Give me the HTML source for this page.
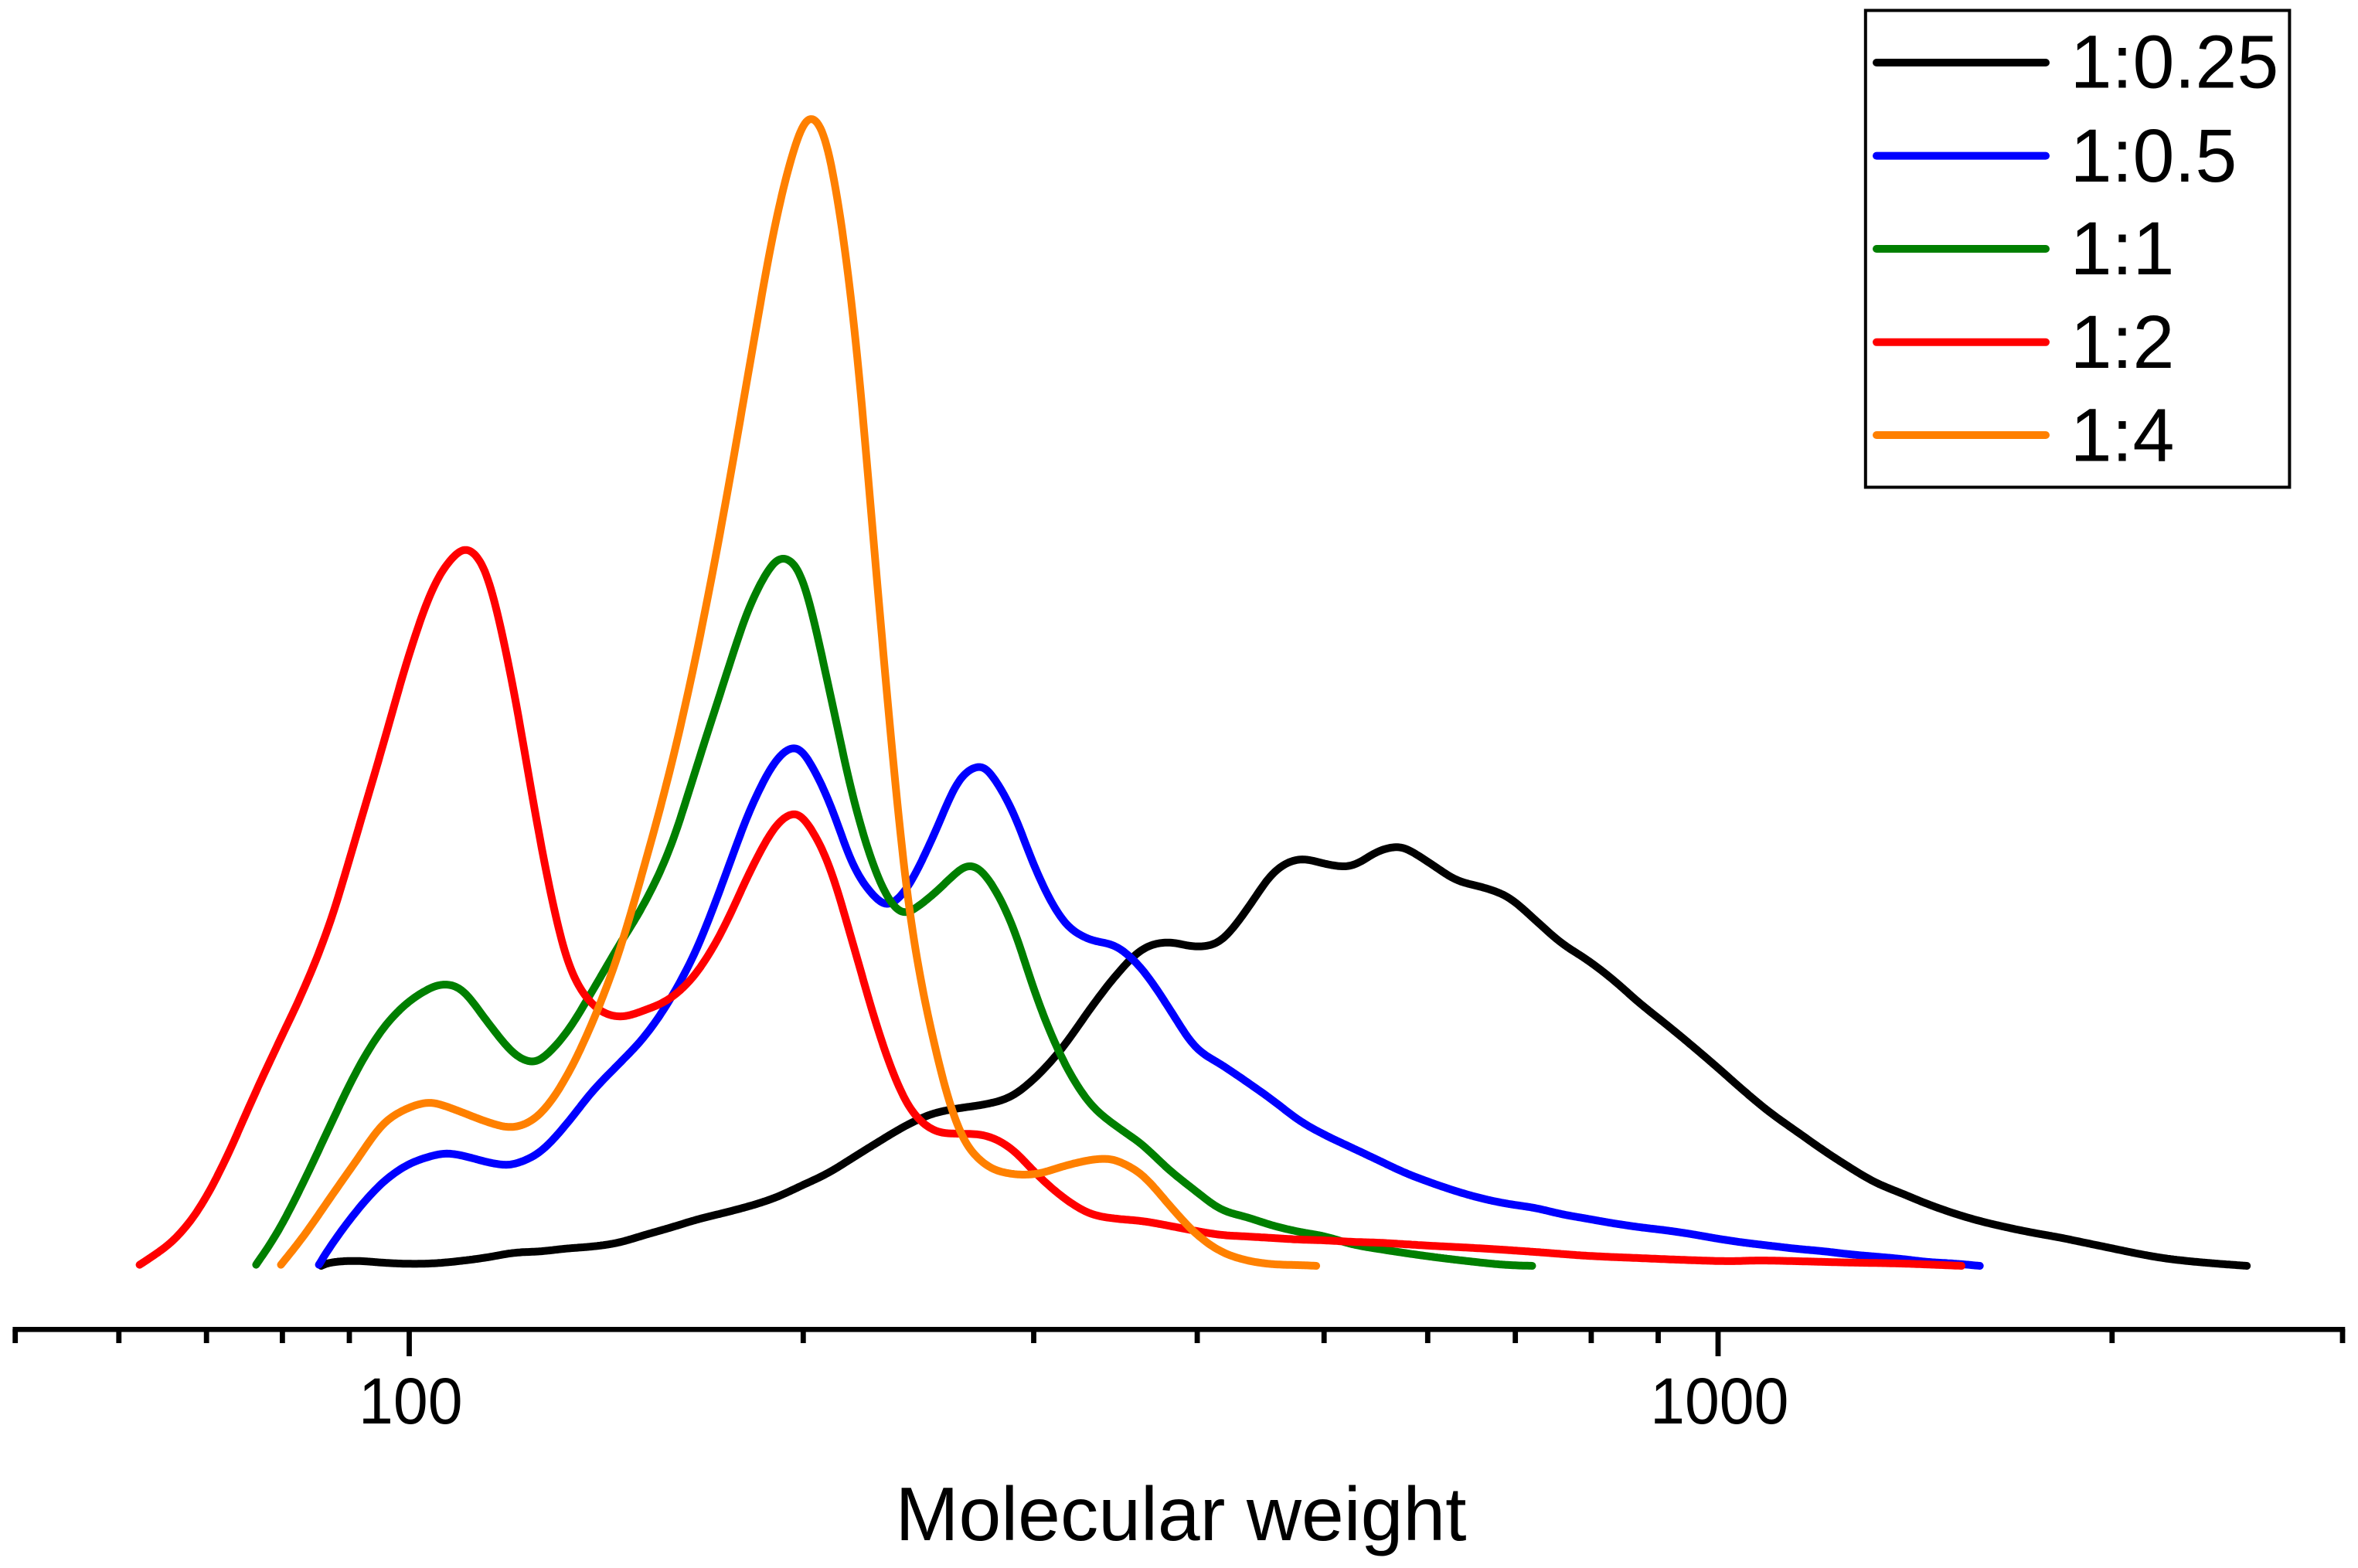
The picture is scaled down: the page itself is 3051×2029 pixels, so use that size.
<!DOCTYPE html>
<html lang="en">
<head>
<meta charset="utf-8">
<title>Molecular weight distribution</title>
<style>
html,body{margin:0;padding:0;background:#fff;}
svg{display:block;}
text{font-family:"Liberation Sans",Arial,sans-serif;fill:#000;}
</style>
</head>
<body>
<svg id="chart" xmlns="http://www.w3.org/2000/svg" width="3051" height="2029" viewBox="0 0 3051 2029">
  <rect x="0" y="0" width="3051" height="2029" fill="#ffffff"/>
  <g id="series-layer"></g>
  <g id="axis-layer"></g>
  <text x="1528" y="1993" font-size="98.5" text-anchor="middle">Molecular weight</text>
  <g>
    <rect x="2413.8" y="13.5" width="548.6" height="617" fill="#ffffff" stroke="#000000" stroke-width="4"/>
    <g>
      <line x1="2428" y1="81" x2="2647" y2="81" stroke="#000000" stroke-width="10" stroke-linecap="round"/>
      <text x="2678.6" y="113.6" font-size="97">1:0.25</text>
    </g>
    <g>
      <line x1="2428" y1="201.6" x2="2647" y2="201.6" stroke="#0000ff" stroke-width="10" stroke-linecap="round"/>
      <text x="2678.6" y="234.8" font-size="97">1:0.5</text>
    </g>
    <g>
      <line x1="2428" y1="322" x2="2647" y2="322" stroke="#007f00" stroke-width="10" stroke-linecap="round"/>
      <text x="2678.6" y="354.8" font-size="97">1:1</text>
    </g>
    <g>
      <line x1="2428" y1="442.8" x2="2647" y2="442.8" stroke="#ff0000" stroke-width="10" stroke-linecap="round"/>
      <text x="2678.6" y="476" font-size="97">1:2</text>
    </g>
    <g>
      <line x1="2428" y1="563" x2="2647" y2="563" stroke="#ff8000" stroke-width="10" stroke-linecap="round"/>
      <text x="2678.6" y="596.4" font-size="97">1:4</text>
    </g>
  </g>
</svg>
<script>
// Axis tick data (molecular weight)
const minorTicks = [50,60,70,80,90,200,300,400,500,600,700,800,900,2000,3000];
const majorTicks = [100,1000];
const majorTickLabels = ["100","1000"];

// Series 1:0.25 - log10(molecular weight) and relative intensity
const logMw025 = [1.9327,1.94,1.96,1.98,2.00,2.02,2.04,2.06,2.08,2.10,2.12,2.14,2.16,2.18,2.20,2.22,2.24,2.26,2.28,2.30,2.32,2.34,2.36,2.38,2.40,2.42,2.44,2.46,2.48,2.50,2.52,2.54,2.56,2.58,2.60,2.62,2.64,2.66,2.68,2.70,2.72,2.74,2.755,2.76,2.78,2.80,2.82,2.84,2.86,2.88,2.90,2.92,2.94,2.96,2.98,3.00,3.02,3.04,3.06,3.08,3.10,3.12,3.14,3.16,3.18,3.20,3.22,3.24,3.26,3.28,3.30,3.32,3.34,3.36,3.38,3.40,3.404];
const intensity025 = [0,0.46,0.65,0.4,0.26,0.33,0.65,1.1,1.7,1.86,2.24,2.5,3.0,4,4.96,6,6.84,7.73,8.84,10.4,12,14.1,16.2,18.2,19.7,20.4,20.9,21.9,24.6,28.4,33.2,37.6,41,41.9,41.3,42,46.1,50.9,52.67,52,51.7,53.66,54.3,54.2,52.1,49.9,49,47.7,44.8,41.8,39.6,37,34,31.3,28.5,25.6,22.6,19.8,17.4,15,12.8,10.8,9.4,8,6.8,5.8,5,4.3,3.7,3,2.3,1.6,1,0.6,0.3,0.05,0];

// Series 1:0.5
const logMw05 = [1.931,1.94,1.96,1.98,2.00,2.02,2.0275,2.04,2.06,2.074,2.08,2.10,2.12,2.14,2.16,2.18,2.20,2.22,2.24,2.26,2.28,2.294,2.30,2.32,2.34,2.36,2.365,2.38,2.40,2.42,2.437,2.44,2.46,2.48,2.50,2.52,2.54,2.56,2.58,2.60,2.62,2.64,2.66,2.68,2.70,2.72,2.74,2.76,2.78,2.80,2.82,2.84,2.86,2.88,2.90,2.92,2.94,2.96,2.98,3.00,3.02,3.04,3.06,3.08,3.10,3.12,3.14,3.16,3.18,3.20];
const intensity05 = [0.14,2.6,7.15,10.85,13.2,14.36,14.6,14.3,13.4,13,13.1,14.7,18.3,22.6,26.1,29.7,34.65,41.1,49.8,58.9,65.45,67.3,66.9,60.5,51.4,46.9,46.4,48.7,55.4,63,64.9,64.8,59.3,50.7,44.5,42.2,41.4,38.4,33.5,28.35,26.1,23.8,21.4,18.8,16.9,15.3,13.7,12.1,10.8,9.65,8.7,8.0,7.5,6.7,6.1,5.5,5,4.6,4.1,3.5,3,2.6,2.2,1.9,1.5,1.2,0.9,0.5,0.3,0];

// Series 1:1
const logMw1 = [1.883,1.90,1.92,1.94,1.96,1.98,2.00,2.02,2.025,2.04,2.06,2.08,2.095,2.10,2.12,2.14,2.16,2.18,2.20,2.22,2.24,2.26,2.28,2.284,2.30,2.32,2.34,2.36,2.375,2.38,2.40,2.42,2.428,2.44,2.46,2.48,2.50,2.52,2.54,2.56,2.58,2.60,2.62,2.64,2.66,2.68,2.70,2.72,2.74,2.78,2.82,2.84,2.858];
const intensity1 = [0.14,4.5,11.1,18.3,25.3,30.75,34.25,36.3,36.5,35.85,31.5,27.4,26.2,26.5,30.1,35.6,41.4,47,54.3,64.8,75.3,85.4,91.6,91.9,89.4,75.3,59.9,49.4,45.5,45.5,48,51.2,52,50.7,44.5,34.4,26.4,21,18.1,15.7,12.5,9.8,7.3,6.3,5.2,4.4,3.8,2.8,2.2,1.2,0.4,0.1,0];

// Series 1:2
const logMw2 = [1.794,1.80,1.82,1.84,1.86,1.88,1.90,1.92,1.94,1.96,1.98,2.00,2.02,2.04,2.045,2.06,2.08,2.10,2.12,2.14,2.16,2.18,2.20,2.22,2.24,2.26,2.28,2.295,2.30,2.32,2.34,2.36,2.38,2.40,2.42,2.44,2.46,2.48,2.50,2.52,2.54,2.56,2.58,2.60,2.62,2.64,2.66,2.68,2.70,2.72,2.74,2.78,2.82,2.86,2.90,2.94,2.98,3.01,3.03,3.06,3.10,3.14,3.186];
const intensity2 = [0.14,0.8,3.3,7.5,13.85,21.5,28.8,36,44.6,55.9,67.4,79.2,88.5,92.9,93,89.4,74.4,55,39.7,33.8,32.2,33.1,34.65,38,43.6,50.9,57,58.8,58.4,52.3,41.1,29.5,21,17.55,17.1,16.9,15.2,11.75,8.8,6.75,6.1,5.8,5.2,4.55,4.0,3.8,3.6,3.4,3.3,3.1,3.0,2.6,2.25,1.8,1.3,1.0,0.73,0.6,0.7,0.6,0.43,0.3,0];

// Series 1:4
const logMw4 = [1.902,1.92,1.94,1.96,1.98,2.00,2.0145,2.02,2.04,2.06,2.08,2.10,2.12,2.14,2.16,2.18,2.20,2.22,2.24,2.26,2.28,2.30,2.308,2.32,2.34,2.36,2.38,2.40,2.42,2.44,2.46,2.48,2.50,2.52,2.534,2.54,2.56,2.58,2.60,2.62,2.64,2.66,2.68,2.693];
const intensity4 = [0.14,4,8.9,13.7,18.4,20.5,21.2,21.1,19.9,18.6,17.9,19.6,24.4,31.5,40.4,52,64.6,79.6,97.1,116.4,135.3,147.8,148.9,145.1,122.1,83.4,48.3,29.5,17.5,13.1,11.9,11.9,12.9,13.7,13.9,13.7,11.8,8,4.3,1.86,0.7,0.2,0.1,0];

// Axis functions
function xLog(logMw){ return 529.5 + (logMw - 2) * 1693.5; }
function xMw(mw){ return xLog(Math.log10(mw)); }
function yVal(v){ return 1638 - v * 10; }

// Dense Hermite sampling followed by light Gaussian smoothing, so that
// reading noise does not show up as kinks in the instrument-style curve.
function sampleCurve(xs, ys, step){
  const p = xs.map(function(v,i){ return [xLog(v), yVal(ys[i])]; });
  const out = [];
  for(let i=0;i<p.length-1;i++){
    const p0=p[Math.max(0,i-1)], p1=p[i], p2=p[i+1], p3=p[Math.min(p.length-1,i+2)];
    const h=p2[0]-p1[0];
    const m1=(p2[1]-p0[1])/Math.max(p2[0]-p0[0],1e-6);
    const m2=(p3[1]-p1[1])/Math.max(p3[0]-p1[0],1e-6);
    const n=Math.max(1,Math.round(h/step));
    for(let k=0;k<n;k++){
      const t=k/n, t2=t*t, t3=t2*t;
      const y=(2*t3-3*t2+1)*p1[1]+(t3-2*t2+t)*h*m1+(-2*t3+3*t2)*p2[1]+(t3-t2)*h*m2;
      out.push([p1[0]+t*h,y]);
    }
  }
  out.push(p[p.length-1]);
  return out;
}
function smoothCurve(pts, sigma){
  return pts.map(function(pt,i){
    let radius=Math.min(i,pts.length-1-i);
    let sw=0, sx=0, sy=0;
    for(let j=i-radius;j<=i+radius;j++){
      const d=pts[j][0]-pt[0];
      if(Math.abs(d)>3*sigma) continue;
      const w=Math.exp(-d*d/(2*sigma*sigma));
      sw+=w; sx+=w*pts[j][0]; sy+=w*pts[j][1];
    }
    return [sx/sw, sy/sw];
  });
}
function curvePath(xs, ys){
  const pts = smoothCurve(sampleCurve(xs, ys, 2), 9);
  return pts.map(function(q,i){ return (i?"L":"M")+q[0].toFixed(1)+" "+q[1].toFixed(1); }).join("");
}

const NS = "http://www.w3.org/2000/svg";
const seriesLayer = document.getElementById("series-layer");
const axisLayer = document.getElementById("axis-layer");

function addSeries(xs, ys, color, name){
  const path = document.createElementNS(NS, "path");
  path.setAttribute("d", curvePath(xs, ys));
  path.setAttribute("fill", "none");
  path.setAttribute("stroke", color);
  path.setAttribute("stroke-width", "10");
  path.setAttribute("stroke-linecap", "round");
  path.setAttribute("stroke-linejoin", "round");
  
  
  seriesLayer.appendChild(path);
}
addSeries(logMw025, intensity025, "#000000", "series-1-0.25");
addSeries(logMw05, intensity05, "#0000ff", "series-1-0.5");
addSeries(logMw1, intensity1, "#007f00", "series-1-1");
addSeries(logMw2, intensity2, "#ff0000", "series-1-2");
addSeries(logMw4, intensity4, "#ff8000", "series-1-4");

// Axis line
const axisLine = document.createElementNS(NS, "line");
axisLine.setAttribute("x1", xMw(50) - 3.3);
axisLine.setAttribute("x2", xMw(3000) + 3.3);
axisLine.setAttribute("y1", 1720.3);
axisLine.setAttribute("y2", 1720.3);
axisLine.setAttribute("stroke", "#000");
axisLine.setAttribute("stroke-width", "6.7");


axisLayer.appendChild(axisLine);

minorTicks.forEach(function(mw){
  const t = document.createElementNS(NS, "line");
  t.setAttribute("x1", xMw(mw));
  t.setAttribute("x2", xMw(mw));
  t.setAttribute("y1", 1720);
  t.setAttribute("y2", 1738);
  t.setAttribute("stroke", "#000");
  t.setAttribute("stroke-width", "6.8");
  
  
  axisLayer.appendChild(t);
});
majorTicks.forEach(function(mw, i){
  const t = document.createElementNS(NS, "line");
  t.setAttribute("x1", xMw(mw));
  t.setAttribute("x2", xMw(mw));
  t.setAttribute("y1", 1720);
  t.setAttribute("y2", 1755);
  t.setAttribute("stroke", "#000");
  t.setAttribute("stroke-width", "6.8");
  
  
  axisLayer.appendChild(t);
  const lab = document.createElementNS(NS, "text");
  lab.setAttribute("x", xMw(mw) + 1.8);
  lab.setAttribute("y", 1842);
  lab.setAttribute("font-size", "84");
  lab.setAttribute("text-anchor", "middle");
  lab.setAttribute("textLength", (majorTickLabels[i].length * 0.556 * 84 * 0.96).toFixed(1));
  lab.setAttribute("lengthAdjust", "spacingAndGlyphs");
  
  
  lab.textContent = majorTickLabels[i];
  axisLayer.appendChild(lab);
});
</script>
</body>
</html>
